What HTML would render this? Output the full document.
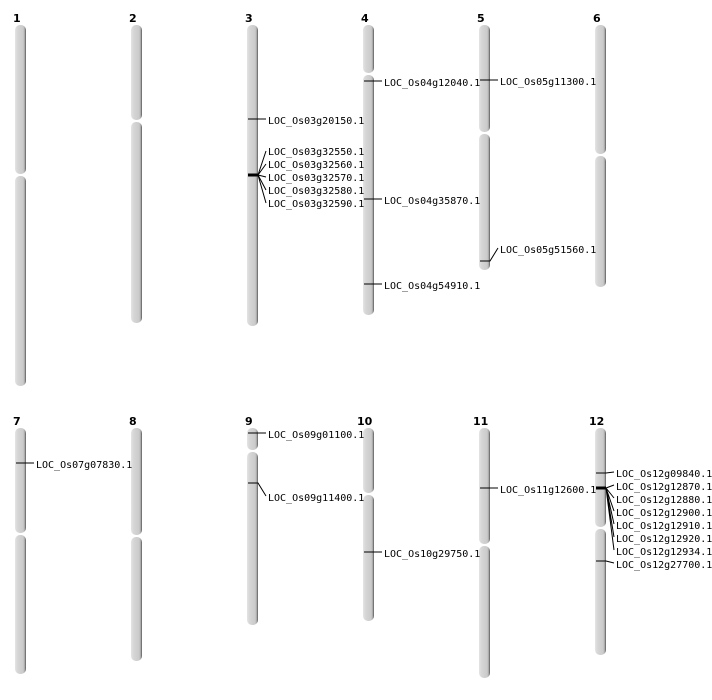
<!DOCTYPE html>
<html><head><meta charset="utf-8"><style>
html,body{margin:0;padding:0;background:#fff;width:712px;height:700px;overflow:hidden}
svg text{font-family:"DejaVu Sans Mono","Liberation Mono",monospace;font-size:10px;fill:#000}
svg text.n{font-family:"DejaVu Sans","Liberation Sans",sans-serif;font-weight:bold;font-size:11px}
</style></head><body>
<svg width="712" height="700" xmlns="http://www.w3.org/2000/svg">
<defs><linearGradient id="g" x1="0" x2="1" y1="0" y2="0">
<stop offset="0" stop-color="#e4e4e4"/><stop offset="0.25" stop-color="#d6d6d6"/><stop offset="0.75" stop-color="#cacaca"/><stop offset="0.88" stop-color="#aaa"/><stop offset="1" stop-color="#555"/></linearGradient></defs>
<g fill="url(#g)">
<rect x="15" y="25" width="11" height="149" rx="5"/><rect x="15" y="176" width="11" height="210" rx="5"/>
<rect x="131" y="25" width="11" height="95" rx="5"/><rect x="131" y="122" width="11" height="201" rx="5"/>
<rect x="247" y="25" width="11" height="301" rx="5"/>
<rect x="363" y="25" width="11" height="48" rx="5"/><rect x="363" y="75" width="11" height="240" rx="5"/>
<rect x="479" y="25" width="11" height="107" rx="5"/><rect x="479" y="134" width="11" height="136" rx="5"/>
<rect x="595" y="25" width="11" height="129" rx="5"/><rect x="595" y="156" width="11" height="131" rx="5"/>
<rect x="15" y="428" width="11" height="105" rx="5"/><rect x="15" y="535" width="11" height="139" rx="5"/>
<rect x="131" y="428" width="11" height="107" rx="5"/><rect x="131" y="537" width="11" height="124" rx="5"/>
<rect x="247" y="428" width="11" height="22" rx="5"/><rect x="247" y="452" width="11" height="173" rx="5"/>
<rect x="363" y="428" width="11" height="65" rx="5"/><rect x="363" y="495" width="11" height="126" rx="5"/>
<rect x="479" y="428" width="11" height="116" rx="5"/><rect x="479" y="546" width="11" height="132" rx="5"/>
<rect x="595" y="428" width="11" height="99" rx="5"/><rect x="595" y="529" width="11" height="126" rx="5"/>
</g>
<g>
<text class="n" x="13" y="22">1</text><text class="n" x="129" y="22">2</text><text class="n" x="245" y="22">3</text>
<text class="n" x="361" y="22">4</text><text class="n" x="477" y="22">5</text><text class="n" x="593" y="22">6</text>
<text class="n" x="13" y="425">7</text><text class="n" x="129" y="425">8</text><text class="n" x="245" y="425">9</text>
<text class="n" x="357" y="425">10</text><text class="n" x="473" y="425">11</text><text class="n" x="589" y="425">12</text>
</g>
<g stroke="#000" stroke-width="1" fill="none">
<path d="M248 119H266"/>
<path d="M248 175H258" stroke-width="3"/>
<path d="M258 175L266 151M258 175L266 164M258 175L266 177M258 175L266 190M258 175L266 203"/>
<path d="M364 81H382M364 199H382M364 284H382"/>
<path d="M480 80H498"/>
<path d="M480 261H490L498 248"/>
<path d="M16 463H34"/>
<path d="M248 433H266"/>
<path d="M248 483H258L266 496"/>
<path d="M364 552H382"/>
<path d="M480 488H498"/>
<path d="M596 473H606L614 472"/>
<path d="M596 488H606" stroke-width="3"/>
<path d="M606 488L614 485M606 488L614 498M606 488L614 511M606 488L614 524M606 488L614 537M606 488L614 550"/>
<path d="M596 561H606L614 563"/>
</g>
<g dominant-baseline="central">
<text x="268" y="121.5">LOC_Os03g20150.1</text>
<text x="268" y="152.5">LOC_Os03g32550.1</text>
<text x="268" y="165.5">LOC_Os03g32560.1</text>
<text x="268" y="178.5">LOC_Os03g32570.1</text>
<text x="268" y="191.5">LOC_Os03g32580.1</text>
<text x="268" y="204.5">LOC_Os03g32590.1</text>
<text x="384" y="83.5">LOC_Os04g12040.1</text>
<text x="384" y="201.5">LOC_Os04g35870.1</text>
<text x="384" y="286.5">LOC_Os04g54910.1</text>
<text x="500" y="82.5">LOC_Os05g11300.1</text>
<text x="500" y="250.5">LOC_Os05g51560.1</text>
<text x="36" y="465.5">LOC_Os07g07830.1</text>
<text x="268" y="435.5">LOC_Os09g01100.1</text>
<text x="268" y="498.5">LOC_Os09g11400.1</text>
<text x="384" y="554.5">LOC_Os10g29750.1</text>
<text x="500" y="490.5">LOC_Os11g12600.1</text>
<text x="616" y="474.5">LOC_Os12g09840.1</text>
<text x="616" y="487.5">LOC_Os12g12870.1</text>
<text x="616" y="500.5">LOC_Os12g12880.1</text>
<text x="616" y="513.5">LOC_Os12g12900.1</text>
<text x="616" y="526.5">LOC_Os12g12910.1</text>
<text x="616" y="539.5">LOC_Os12g12920.1</text>
<text x="616" y="552.5">LOC_Os12g12934.1</text>
<text x="616" y="565.5">LOC_Os12g27700.1</text>
</g>
</svg>
</body></html>
